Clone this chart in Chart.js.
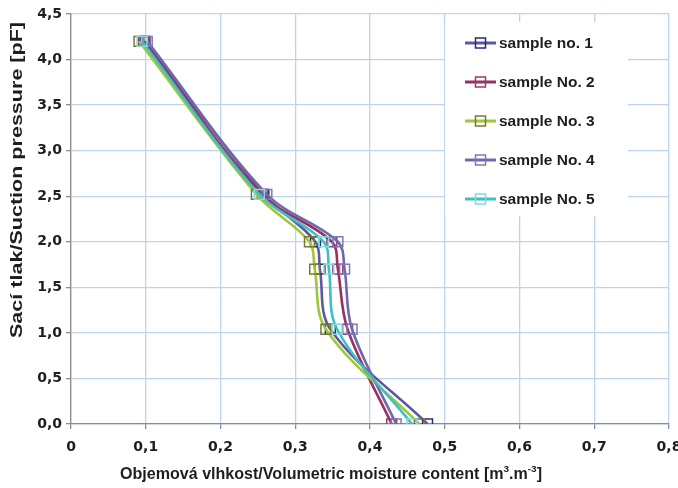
<!DOCTYPE html>
<html>
<head>
<meta charset="utf-8">
<script src="https://cdn.jsdelivr.net/npm/chart.js@4.4.1/dist/chart.umd.min.js"></script>
<style>
    html, body { margin: 0; padding: 0; background: #fff; }
    #wrap { width: 678px; height: 488px; }
</style>
</head>
<body>
<div id="wrap"><canvas id="graf-vlhkost" width="678" height="488"></canvas></div>
<script>
// Hodnoty
const sampleNames = ['sample no. 1', 'sample No. 2', 'sample No. 3', 'sample No. 4', 'sample No. 5'];
const suctionLevels = [4.2, 2.52, 2.0, 1.7, 1.04, 0.0];
const moisture1 = [0.099, 0.258, 0.327, 0.333, 0.347, 0.477];
const moisture2 = [0.097, 0.256, 0.349, 0.357, 0.370, 0.429];
const moisture3 = [0.091, 0.248, 0.319, 0.326, 0.341, 0.466];
const moisture4 = [0.102, 0.262, 0.357, 0.366, 0.376, 0.435];
const moisture5 = [0.095, 0.252, 0.338, 0.345, 0.356, 0.456];
const xTickLabels = ['0', '0,1', '0,2', '0,3', '0,4', '0,5', '0,6', '0,7', '0,8'];
const yTickLabels = ['0,0', '0,5', '1,0', '1,5', '2,0', '2,5', '3,0', '3,5', '4,0', '4,5'];

const lineColors = ['#5c5a9e', '#9a2f63', '#9cc83a', '#6f68ab', '#3ec0c2'];
const markerColors = ['#2a2878', '#9a3a6c', '#7a7a2e', '#7e78b6', '#86d8e2'];

const allMoisture = [moisture1, moisture2, moisture3, moisture4, moisture5];
const tickFont = { family: 'DejaVu Sans', size: 14, weight: 'bold' };
const textColor = '#1e1e1e';
const family = '"Liberation Sans", Arial, sans-serif';

// legenda + popisky os kreslené ručně (kvůli pozici a horním indexům)
const customText = {
    id: 'customText',
    afterDraw(chart) {
        const ctx = chart.ctx;
        ctx.save();

        // legenda s bílým pozadím
        ctx.fillStyle = '#fff';
        ctx.fillRect(445, 22, 183, 194);
        chart.data.datasets.forEach((ds, i) => {
            const y = 43 + i * 39;
            ctx.strokeStyle = ds.borderColor;
            ctx.lineWidth = 3;
            ctx.beginPath();
            ctx.moveTo(465, y);
            ctx.lineTo(496, y);
            ctx.stroke();
            ctx.strokeStyle = ds.pointBorderColor;
            ctx.lineWidth = 1.5;
            ctx.strokeRect(475.5, y - 5, 10, 10);
            ctx.fillStyle = textColor;
            ctx.font = `bold 15.5px ${family}`;
            ctx.textBaseline = 'middle';
            ctx.textAlign = 'left';
            ctx.fillText(ds.label, 499, y + 1);
        });

        // popisek osy x (roztažený na šířku jako v originálu)
        const fx = 16;
        const parts = [
            ['Objemová vlhkost/Volumetric moisture content [m', false],
            ['3', true], ['.m', false], ['-3', true], [']', false]
        ];
        let w = 0;
        parts.forEach(([t, sup]) => {
            ctx.font = `bold ${sup ? fx * 0.62 : fx}px ${family}`;
            w += ctx.measureText(t).width;
        });
        ctx.save();
        ctx.translate(120, 479);
        ctx.scale(422 / w, 1);
        let x = 0;
        ctx.textBaseline = 'alphabetic';
        ctx.fillStyle = textColor;
        parts.forEach(([t, sup]) => {
            ctx.font = `bold ${sup ? fx * 0.62 : fx}px ${family}`;
            ctx.fillText(t, x, sup ? -fx * 0.42 : 0);
            x += ctx.measureText(t).width;
        });
        ctx.restore();

        // popisek osy y
        const yTitle = 'Sací tlak/Suction pressure [pF]';
        const fy = 16.5;
        ctx.font = `bold ${fy}px ${family}`;
        const wy = ctx.measureText(yTitle).width;
        ctx.translate(17, 180);
        ctx.rotate(-Math.PI / 2);
        ctx.scale(316 / wy, 1);
        ctx.fillStyle = textColor;
        ctx.textAlign = 'center';
        ctx.textBaseline = 'middle';
        ctx.fillText(yTitle, 0, 0);

        ctx.restore();
    }
};

const ctx = document.getElementById('graf-vlhkost').getContext('2d');
window.myMoistureChart = new Chart(ctx, {
    type: 'scatter',
    data: {
        datasets: allMoisture.map((vals, i) => ({
            label: sampleNames[i],
            data: vals.map((v, j) => ({ x: v, y: suctionLevels[j] })),
            showLine: true,
            borderColor: lineColors[i],
            borderWidth: 2.6,
            tension: 0.35,
            pointStyle: 'rect',
            pointRadius: 7,
            pointHoverRadius: 7,
            pointBorderWidth: 1.5,
            pointBorderColor: markerColors[i],
            pointBackgroundColor: 'rgba(0,0,0,0)',
            order: 4 - i
        }))
    },
    options: {
        responsive: false,
        animation: false,
        layout: { padding: { top: 14, right: 9, left: 0, bottom: 0 } },
        plugins: { legend: { display: false }, tooltip: { enabled: false } },
        scales: {
            x: {
                type: 'linear', min: 0, max: 0.8,
                ticks: {
                    stepSize: 0.1, font: tickFont, color: textColor, padding: 10,
                    maxRotation: 0,
                    callback: (v, i) => xTickLabels[i]
                },
                grid: { color: '#bdd4ec', lineWidth: 1.3, tickLength: 5, tickColor: '#8c8c8c' },
                border: { color: '#8c8c8c', width: 1.3 },
                afterFit(s) { s.height = 64; s.paddingLeft = 0; s.paddingRight = 0; }
            },
            y: {
                min: 0, max: 4.5,
                ticks: {
                    stepSize: 0.5, font: tickFont, color: textColor, padding: 4,
                    callback: (v, i) => yTickLabels[i]
                },
                grid: { color: '#bdd4ec', lineWidth: 1.3, tickLength: 5, tickColor: '#8c8c8c' },
                border: { color: '#8c8c8c', width: 1.3 },
                afterFit(s) { s.width = 71; s.paddingTop = 0; s.paddingBottom = 0; }
            }
        }
    },
    plugins: [customText]
});
</script>
</body>
</html>
